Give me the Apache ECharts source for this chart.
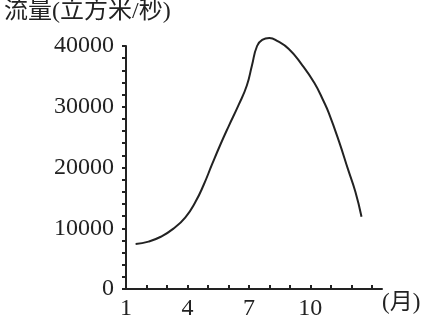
<!DOCTYPE html>
<html>
<head>
<meta charset="utf-8">
<script src="https://cdn.jsdelivr.net/npm/echarts@6/dist/echarts.min.js"></script>
<style>
html,body{margin:0;padding:0;background:#fff;}
#c{width:423px;height:323px;}
</style>
</head>
<body>
<div id="c"></div>
<script>
// Month positions (fractional) and flow values
const months = [1.47, 2.1, 2.7, 3.3, 3.9, 4.4, 4.8, 5.2, 5.6, 6.0, 6.5, 6.9, 7.15, 7.4, 7.65, 8.0, 8.4, 8.95, 9.55, 10.2, 10.65, 10.9, 11.4, 11.85, 12.2, 12.5];
const flows  = [7400, 7800, 8600, 9900, 11800, 14400, 17200, 20500, 23700, 26700, 30300, 33500, 36800, 40000, 41000, 41300, 40800, 39500, 37100, 33900, 30900, 29000, 24300, 19600, 16000, 11900];
const xTicks = [1,2,3,4,5,6,7,8,9,10,11,12,13];
const xLabels = [1,4,7,10];
const yTicks = [0,2000,4000,6000,8000,10000,12000,14000,16000,18000,20000,22000,24000,26000,28000,30000,32000,34000,36000,38000,40000];
const yLabels = [0,10000,20000,30000,40000];
const yTitle = '流量(立方米/秒)';
const xUnit = '(月)';

const serif = '"Liberation Serif","Noto Sans CJK SC",serif';
const ink = '#222';
const chart = echarts.init(document.getElementById('c'));
chart.setOption({
  animation: false,
  backgroundColor: '#fff',
  grid: {left: 126, right: 41, top: 46, bottom: 34, containLabel: false},
  xAxis: {
    type: 'value', min: 1, max: 13.5,
    splitLine: {show: false},
    axisLine: {show: true, lineStyle: {color: ink, width: 2}},
    axisTick: {show: true, inside: true, length: 4, customValues: xTicks, lineStyle: {color: ink, width: 2}},
    axisLabel: {customValues: xLabels, formatter: v => String(v), color: ink, fontFamily: serif, fontSize: 24, margin: 8}
  },
  yAxis: {
    type: 'value', min: 0, max: 40000,
    splitLine: {show: false},
    axisLine: {show: true, lineStyle: {color: ink, width: 2}},
    axisTick: {show: true, inside: false, length: 4, customValues: yTicks, lineStyle: {color: ink, width: 2}},
    axisLabel: {customValues: yLabels, formatter: v => String(v), color: ink, fontFamily: serif, fontSize: 24, margin: 12}
  },
  graphic: [
    {type: 'text', left: 4, top: 0, style: {text: yTitle, fontSize: 24, fontFamily: serif, fill: ink}},
    {type: 'text', left: 382, top: 291, style: {text: xUnit, fontSize: 23, fontFamily: serif, fill: ink}}
  ],
  series: [{
    type: 'line',
    data: months.map((m, i) => [m, flows[i]]),
    smooth: 0.5,
    showSymbol: false,
    clip: false,
    lineStyle: {color: ink, width: 2}
  }]
});
</script>
</body>
</html>
